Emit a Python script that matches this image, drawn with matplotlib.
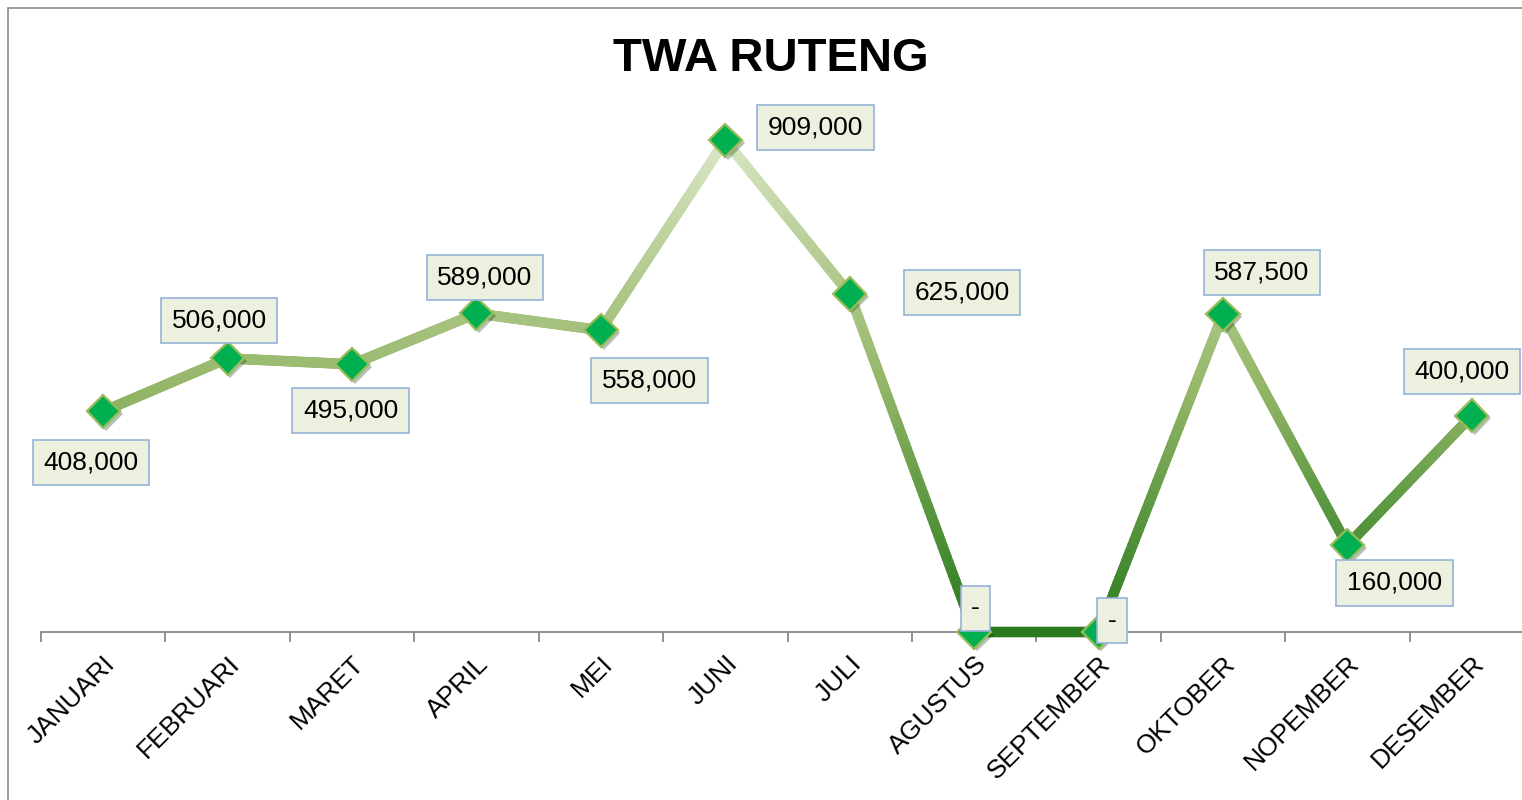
import numpy as np
import matplotlib
matplotlib.use("Agg")
import matplotlib.pyplot as plt
from matplotlib.collections import LineCollection
from matplotlib.colors import LinearSegmentedColormap, Normalize
from matplotlib.patches import Rectangle
import matplotlib.patheffects as pe

plt.rcParams['font.family'] = ['Liberation Sans', 'DejaVu Sans']

# monthly values
months = ['JANUARI', 'FEBRUARI', 'MARET', 'APRIL', 'MEI', 'JUNI', 'JULI',
          'AGUSTUS', 'SEPTEMBER', 'OKTOBER', 'NOPEMBER', 'DESEMBER']
values = [408000, 506000, 495000, 589000, 558000, 909000, 625000,
          0, 0, 587500, 160000, 400000]

# label offsets in points (dx, dy) from each marker
label_offsets = [(-9, -37), (-6, 27), (-1, -33), (6, 26), (35, -36), (65, 9),
                 (81, 1), (1, 17), (10, 8), (28, 30), (34, -27), (-7, 32)]

fig = plt.figure(figsize=(15.22, 8), dpi=100)
ax = fig.add_axes([41 / 1522, 0.21, 1493 / 1522, 0.676])

x = np.arange(len(months))
y = np.array(values, dtype=float)

# line coloured by height: dark green at the bottom, pale green at the top
cmap = LinearSegmentedColormap.from_list(
    'greens', ['#2C7A1F', '#5A9741', '#95B769', '#B5CC92', '#D8E6C5'])
norm = Normalize(0, max(values))
xs, ys = [], []
for i in range(len(x) - 1):
    t = np.linspace(0, 1, 60)
    xs.append(x[i] + (x[i + 1] - x[i]) * t)
    ys.append(y[i] + (y[i + 1] - y[i]) * t)
xs = np.concatenate(xs)
ys = np.concatenate(ys)
pts = np.column_stack([xs, ys]).reshape(-1, 1, 2)
segs = np.concatenate([pts[:-1], pts[1:]], axis=1)
mid = (ys[:-1] + ys[1:]) / 2
lc = LineCollection(segs, colors=cmap(norm(mid)), linewidths=7.5,
                    capstyle='round', joinstyle='round', zorder=3, clip_on=False)
ax.add_collection(lc)

# diamond markers with a soft shadow
ax.plot(x, y, linestyle='none', marker='D', markersize=17,
        markerfacecolor='#00B050', markeredgecolor='#9BBB59',
        markeredgewidth=1.6, zorder=4, clip_on=False,
        path_effects=[pe.SimplePatchShadow(offset=(2, -2), alpha=0.3),
                      pe.Normal()])

# value labels
for xi, yi, (dx, dy) in zip(x, values, label_offsets):
    txt = '-' if yi == 0 else f'{yi:,.0f}'
    ax.annotate(txt, (xi, yi), xytext=(dx, dy), textcoords='offset points',
                ha='center', va='center', fontsize=19, color='black',
                zorder=6, annotation_clip=False,
                bbox=dict(boxstyle='square,pad=0.4', facecolor='#EBF1DE',
                          edgecolor='#95B3D7', linewidth=1.2))

ax.set_xlim(-0.5, len(months) - 0.5)
ax.set_ylim(0, 1000000)

for side in ['left', 'right', 'top']:
    ax.spines[side].set_visible(False)
ax.spines['bottom'].set_color('#888888')
ax.spines['bottom'].set_linewidth(1.3)
ax.set_yticks([])

ax.set_xticks(x)
ax.set_xticklabels(months, rotation=45, ha='right', va='top',
                   rotation_mode='anchor', fontsize=19)
ax.tick_params(axis='x', which='major', length=0, pad=14)
ax.set_xticks(np.arange(-0.5, len(months)), minor=True)
ax.tick_params(axis='x', which='minor', length=7, width=1.3, color='#888888')

fig.text(771 / 1522, 0.926, 'TWA RUTENG', ha='center', va='center',
         fontsize=34, fontweight='bold')

# chart frame
fig.patches.append(Rectangle((8 / 1522, -0.1), 1.2, 1 - 8 / 800 + 0.1,
                             transform=fig.transFigure, fill=False,
                             edgecolor='#8C8C8C', linewidth=1.2))

fig.savefig('out.png', dpi=100)
